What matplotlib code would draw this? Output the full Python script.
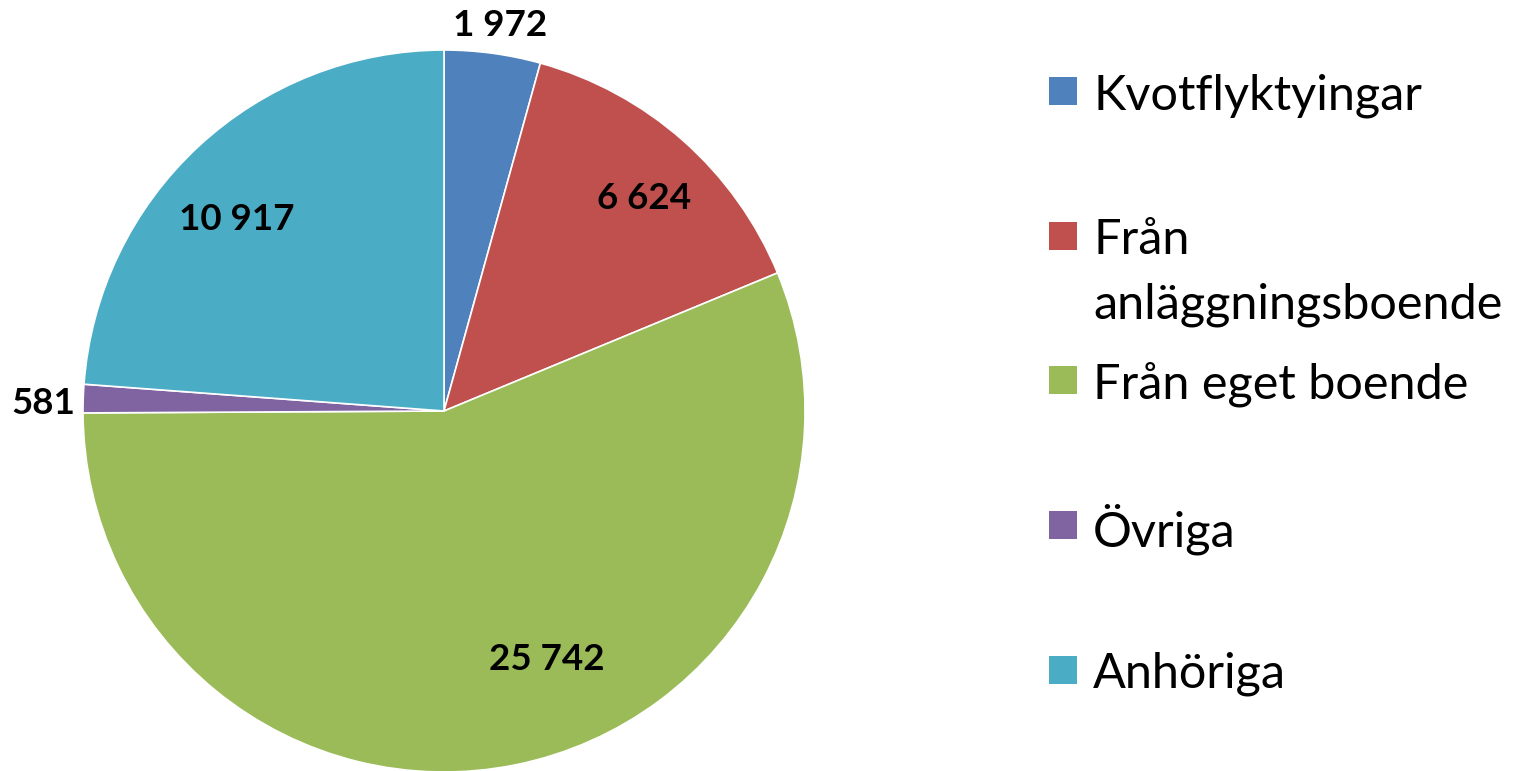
import matplotlib
matplotlib.use('Agg')
import matplotlib.pyplot as plt
from matplotlib.patches import Rectangle
import numpy as np

plt.rcParams['font.family'] = ['Lato', 'DejaVu Sans']

# data
categories = ['Kvotflyktyingar', 'Från\nanläggningsboende', 'Från eget boende', 'Övriga', 'Anhöriga']
values = [1972, 6624, 25742, 581, 10917]
colors = ['#4F81BD', '#C0504D', '#9BBB59', '#8064A2', '#4BACC6']

# value label placement: radius fraction and angle nudge (deg, clockwise) from wedge middle
label_dist = [1.08, 0.81, 0.745, 1.11, 0.78]
label_nudge = [0.5, 1.8, -11.1, -0.9, -4.4]

W, H = 1526, 771
fig = plt.figure(figsize=(W / 100, H / 100), dpi=100)

cx, cy, r = 444, 411, 361  # pie centre / radius in pixels
ax = fig.add_axes([(cx - r) / W, (H - cy - r) / H, 2 * r / W, 2 * r / H])
wedges, _ = ax.pie(values, colors=colors, startangle=90, counterclock=False,
                   radius=1, wedgeprops=dict(linewidth=1.2, edgecolor='white'))
ax.set_xlim(-1, 1)
ax.set_ylim(-1, 1)
ax.set_aspect('equal')
ax.axis('off')

for w, v, d, nd in zip(wedges, values, label_dist, label_nudge):
    ang = np.deg2rad((w.theta1 + w.theta2) / 2 - nd)
    x, y = d * np.cos(ang), d * np.sin(ang)
    ax.text(x, y, f"{v:,}".replace(",", " "), ha='center', va='center',
            fontsize=26.5, fontweight='bold', color='black', clip_on=False)

# legend drawn by hand, Excel-style spacing
first_line_y = [91, 236, 380, 525, 670]
line_h = 65
for lab, col, y0 in zip(categories, colors, first_line_y):
    sq = 28
    fig.add_artist(Rectangle((1049 / W, (H - y0 - sq / 2) / H), sq / W, sq / H,
                             transform=fig.transFigure, facecolor=col, edgecolor='none'))
    for i, line in enumerate(lab.split('\n')):
        fig.text(1093 / W, (H - y0 - i * line_h) / H, line, ha='left',
                 va='center_baseline', fontsize=35, color='black')

fig.savefig('out.png', dpi=100)
